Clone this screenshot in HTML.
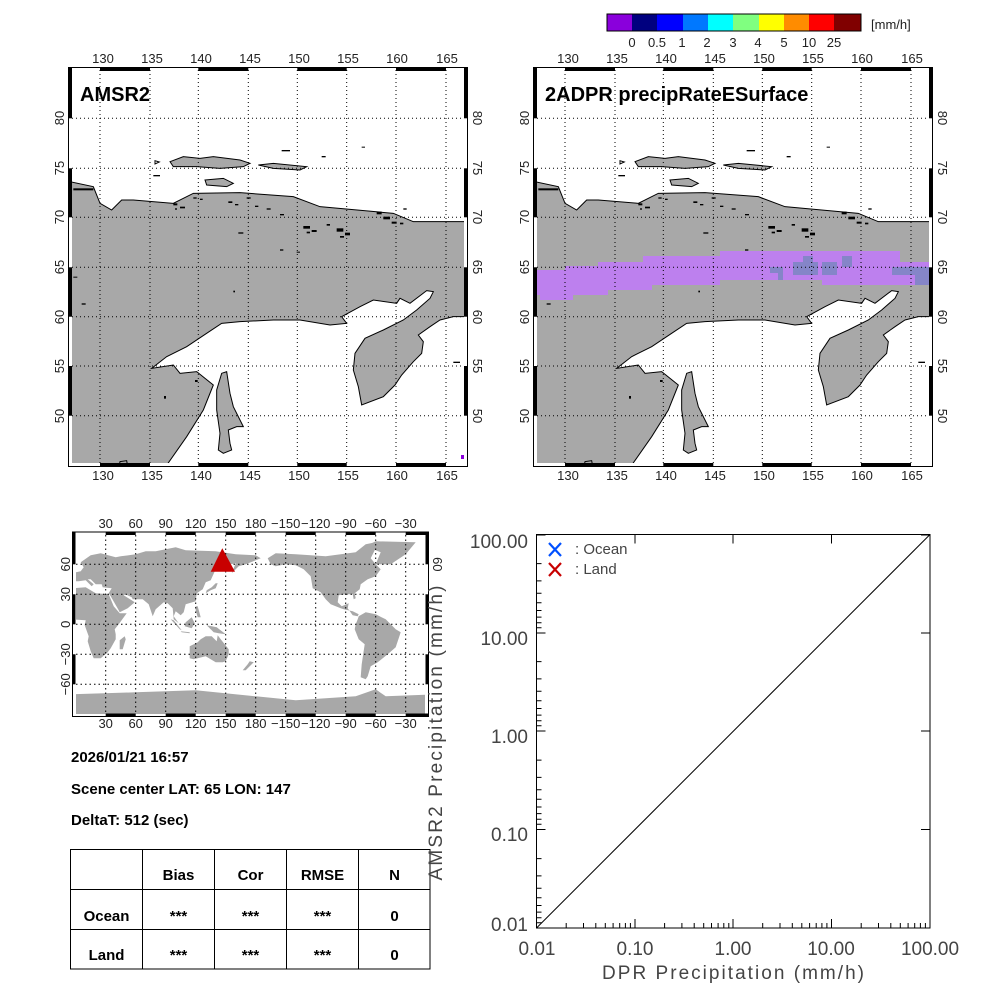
<!DOCTYPE html>
<html><head><meta charset="utf-8"><style>
html,body{margin:0;padding:0;background:#fff;}
svg{display:block;}
.t{font-family:"Liberation Sans",sans-serif;font-size:13px;fill:#222;}
.b{font-family:"Liberation Sans",sans-serif;font-weight:bold;fill:#000;}
.s{font-family:"Liberation Sans",sans-serif;fill:#444;}
</style></head><body>
<svg width="1000" height="1000" viewBox="0 0 1000 1000" xmlns="http://www.w3.org/2000/svg">
<defs>
<clipPath id="c1"><rect x="72" y="70" width="392" height="393"/></clipPath>
<clipPath id="c2"><rect x="537" y="70" width="392" height="393"/></clipPath>
<clipPath id="cw"><rect x="76" y="535" width="349" height="179"/></clipPath>
<g id="land">
<polygon fill="#a8a8a8" stroke="#000" stroke-width="3" points="90,425 160,440 180,490 215,510 245,480 280,480 400,490 460,460 600,458 760,470 840,500 1060,520 1120,545 1300,545 1300,830 1240,830 1200,840 1170,860 1135,885 1150,905 1145,940 1120,965 1085,1005 1065,1035 1030,1070 965,1095 955,1040 940,990 945,940 975,895 1030,870 1090,840 1130,810 1170,775 1180,755 1160,752 1110,790 1080,775 1070,790 1000,780 960,800 905,830 920,850 870,855 780,840 700,840 600,845 545,850 500,880 440,920 380,950 335,985 400,975 420,1000 470,995 520,1035 490,1110 440,1190 370,1290 60,1290 60,425"/>
<polygon fill="#a8a8a8" stroke="#000" stroke-width="3" points="545,1000 560,995 570,1060 580,1100 610,1160 590,1160 565,1170 570,1210 575,1230 550,1240 535,1230 540,1180 530,1110 530,1050"/>
<polygon fill="#a8a8a8" stroke="#000" stroke-width="3" points="390,365 430,350 480,355 520,350 600,360 630,370 610,380 540,385 470,380 400,380"/>
<polygon fill="#a8a8a8" stroke="#000" stroke-width="3" points="655,375 700,370 800,380 780,390 700,385"/>
<polygon fill="#a8a8a8" stroke="#000" stroke-width="3" points="495,420 550,415 580,430 560,440 500,435"/>
<polygon fill="#a8a8a8" stroke="#000" stroke-width="3" points="240,1265 260,1262 265,1290 235,1290"/>
<polygon fill="#fff" stroke="#000" stroke-width="3" points="345,362 358,366 345,372"/>
<g fill="#000">
<rect x="400" y="490" width="12" height="6"/><rect x="420" y="500" width="15" height="5"/><rect x="405" y="505" width="6" height="4"/>
<rect x="460" y="472" width="10" height="4"/><rect x="480" y="476" width="8" height="4"/>
<rect x="565" y="484" width="12" height="5"/><rect x="585" y="492" width="10" height="4"/><rect x="620" y="472" width="12" height="4"/>
<rect x="645" y="497" width="10" height="4"/><rect x="680" y="505" width="12" height="4"/>
<rect x="790" y="558" width="20" height="8"/><rect x="815" y="570" width="15" height="6"/><rect x="800" y="575" width="10" height="5"/>
<rect x="890" y="565" width="20" height="10"/><rect x="915" y="578" width="15" height="8"/><rect x="900" y="588" width="12" height="5"/>
<rect x="860" y="552" width="10" height="5"/><rect x="1010" y="515" width="15" height="8"/><rect x="1030" y="530" width="20" height="8"/>
<rect x="1055" y="545" width="15" height="6"/><rect x="1080" y="548" width="10" height="5"/>
<rect x="720" y="522" width="12" height="4"/><rect x="595" y="577" width="15" height="4"/>
<rect x="720" y="628" width="10" height="4"/><rect x="770" y="635" width="10" height="3"/>
<rect x="725" y="330" width="25" height="4"/><rect x="845" y="348" width="12" height="4"/>
<rect x="965" y="320" width="10" height="3"/><rect x="125" y="790" width="12" height="4"/>
<rect x="372" y="1068" width="6" height="8"/><rect x="465" y="1020" width="8" height="6"/>
<rect x="340" y="405" width="20" height="4"/><rect x="100" y="710" width="12" height="3"/>
<rect x="1240" y="965" width="20" height="4"/><rect x="1090" y="505" width="10" height="4"/>
<rect x="580" y="752" width="5" height="5"/><rect x="100" y="445" width="60" height="6"/>
</g>
</g>
</defs>

<!-- colorbar -->
<g stroke="none">
<rect x="607" y="14" width="26" height="17" fill="#8a00dc"/>
<rect x="632" y="14" width="26" height="17" fill="#00007f"/>
<rect x="657" y="14" width="26" height="17" fill="#0000ff"/>
<rect x="683" y="14" width="26" height="17" fill="#0078ff"/>
<rect x="708" y="14" width="26" height="17" fill="#00ffff"/>
<rect x="733" y="14" width="26" height="17" fill="#80ff80"/>
<rect x="759" y="14" width="26" height="17" fill="#ffff00"/>
<rect x="784" y="14" width="26" height="17" fill="#ff8c00"/>
<rect x="809" y="14" width="26" height="17" fill="#ff0000"/>
<rect x="834" y="14" width="27" height="17" fill="#800000"/>
</g>
<rect x="607" y="14" width="254" height="17" fill="none" stroke="#000"/>
<g class="t" font-size="14" text-anchor="middle">
<text x="632" y="47">0</text><text x="657" y="47">0.5</text><text x="682" y="47">1</text>
<text x="707" y="47">2</text><text x="733" y="47">3</text><text x="758" y="47">4</text>
<text x="784" y="47">5</text><text x="809" y="47">10</text><text x="834" y="47">25</text>
</g>
<text class="t" x="871" y="29" font-size="16">[mm/h]</text>

<!-- left map -->
<g clip-path="url(#c1)"><g transform="translate(40,40) scale(0.33333)"><use href="#land"/></g>
<rect x="461" y="455" width="4" height="4" fill="#8a00dc"/></g>
<!-- right map -->
<g clip-path="url(#c2)"><g transform="translate(505,40) scale(0.33333)"><use href="#land"/></g>
<polygon fill="#bd80ee" points="536,270 565,270 565,266 598,266 598,262 643,262 643,256 720,256 720,251 900,251 900,262 933,262 933,280 925,280 925,285 822,285 822,280 720,280 720,285 652,285 652,290 608,290 608,295 573,295 573,300 540,300 540,295 536,295"/>
<g fill="#8585c8">
<rect x="770" y="267" width="13" height="6"/><rect x="778" y="272" width="5" height="8"/>
<rect x="793" y="262" width="25" height="13"/><rect x="803" y="256" width="10" height="6"/>
<rect x="822" y="262" width="15" height="13"/><rect x="842" y="256" width="10" height="11"/>
<rect x="892" y="267" width="38" height="8"/><rect x="915" y="275" width="15" height="10"/>
</g></g>

<!-- map frames, grids -->
<g id="frames">
<g id="f1">
<g stroke="#000" stroke-width="1" stroke-dasharray="1,3" fill="none">
<path d="M100,70V464M150,70V464M198.3,70V464M248.3,70V464M297.3,70V464M346.7,70V464M396,70V464M446,70V464"/>
<path d="M72,118.3H464M72,168.3H464M72,217.3H464M72,267.3H464M72,316.7H464M72,366H464M72,415.7H464"/>
</g>
<rect x="68.5" y="67.5" width="399" height="399" fill="none" stroke="#000"/>
<g fill="#000">
<rect x="100" y="67" width="50" height="4"/><rect x="198.3" y="67" width="50" height="4"/><rect x="297.3" y="67" width="49.4" height="4"/><rect x="396" y="67" width="50" height="4"/>
<rect x="100" y="463" width="50" height="4"/><rect x="198.3" y="463" width="50" height="4"/><rect x="297.3" y="463" width="49.4" height="4"/><rect x="396" y="463" width="50" height="4"/>
<rect x="68" y="67" width="4" height="51.3"/><rect x="68" y="168.3" width="4" height="49"/><rect x="68" y="267.3" width="4" height="49.4"/><rect x="68" y="366" width="4" height="49.7"/>
<rect x="464" y="67" width="4" height="51.3"/><rect x="464" y="168.3" width="4" height="49"/><rect x="464" y="267.3" width="4" height="49.4"/><rect x="464" y="366" width="4" height="49.7"/>
</g>
<g class="t" text-anchor="middle">
<text x="103" y="63">130</text><text x="152" y="63">135</text><text x="201" y="63">140</text><text x="250" y="63">145</text><text x="299" y="63">150</text><text x="348" y="63">155</text><text x="397" y="63">160</text><text x="447" y="63">165</text>
<text x="103" y="480">130</text><text x="152" y="480">135</text><text x="201" y="480">140</text><text x="250" y="480">145</text><text x="299" y="480">150</text><text x="348" y="480">155</text><text x="397" y="480">160</text><text x="447" y="480">165</text>
<text transform="translate(64,118) rotate(-90)">80</text><text transform="translate(64,168) rotate(-90)">75</text><text transform="translate(64,217) rotate(-90)">70</text><text transform="translate(64,267) rotate(-90)">65</text><text transform="translate(64,317) rotate(-90)">60</text><text transform="translate(64,366) rotate(-90)">55</text><text transform="translate(64,416) rotate(-90)">50</text>
<text transform="translate(473,118) rotate(90)">80</text><text transform="translate(473,168) rotate(90)">75</text><text transform="translate(473,217) rotate(90)">70</text><text transform="translate(473,267) rotate(90)">65</text><text transform="translate(473,317) rotate(90)">60</text><text transform="translate(473,366) rotate(90)">55</text><text transform="translate(473,416) rotate(90)">50</text>
</g>
</g>
<use href="#f1" transform="translate(465,0)"/>
</g>
<text class="b" x="80" y="101" font-size="20">AMSR2</text>
<text class="b" x="545" y="101" font-size="20">2ADPR precipRateESurface</text>

<!-- world map -->
<g clip-path="url(#cw)">
<g transform="translate(75.7,624.3) scale(1,-1)" fill="#a8a8a8">
<polygon points="-5,43 -5,51 5,53 8,57 5,62 15,69 25,71 40,67 45,68 60,70 70,73 80,73 100,77 110,74 140,73 160,70 180,69 185,66 170,60 163,58 156,51 160,61 150,59 140,55 135,44 130,42 127,35 121,31 120,23 110,20 108,12 105,9 100,13 98,8 103,1 98,5 97,16 92,21 88,22 80,15 77,8 73,20 67,25 57,25 56,27 50,30 48,29 56,24 59,22 52,16 44,12 43,14 35,28 33,31 36,36 27,37 26,40 20,40 15,45 12,45 18,40 16,38 10,44 3,43"/>
<polygon points="10,37 -5,36 -5,5 10,4 9,-1 13,-12 12,-17 15,-27 18,-34 25,-34 32,-28 35,-24 40,-15 40,-10 39,-5 43,0 51,11 44,11 38,18 33,30 20,31"/>
<polygon points="44,-25 47,-25 50,-15 49,-12 44,-16"/>
<polygon points="114,-22 114,-34 118,-35 130,-32 135,-35 140,-38 147,-38 150,-37 153,-30 153,-25 145,-15 142,-11 141,-17 136,-12 130,-12 125,-15 122,-18"/>
<polygon points="167,-46 172,-40 174,-37 178,-38 174,-42 170,-46"/>
<polygon points="109,-2 110,2 116,7 119,1 116,-4"/>
<polygon points="95,5 98,4 106,-6 104,-5"/>
<polygon points="105,-7 114,-8 114,-9 106,-8"/>
<polygon points="131,-1 141,-3 150,-10 143,-9 138,-8 134,-4"/>
<polygon points="130,31 135,34 140,36 142,41 140,41 136,37 131,34"/>
<polygon points="120,18 122,18 125,7 122,7 120,14"/>
<polygon points="192,66 200,71 220,70 235,69 250,68 265,70 280,72 290,80 300,82 300,76 295,66 300,60 305,55 300,48 292,45 285,40 284,35 279,31 280,26 278,25 277,30 270,30 263,29 262,22 266,18 273,21 272,16 277,9 282,8 283,10 277,13 268,15 265,16 255,20 250,25 245,32 237,36 236,42 235,48 228,55 220,59 210,60 200,58 195,60"/>
<polygon points="300,60 315,60 330,70 340,82 300,83 290,78 305,72"/>
<polygon points="283,8 290,12 300,10 310,5 320,-5 325,-8 320,-23 312,-30 302,-38 295,-42 292,-52 290,-55 285,-53 286,-40 289,-20 283,-15 279,-5 280,0 282,5"/>
<polygon points="-5,-70 60,-68 120,-66 180,-72 220,-76 280,-72 300,-65 310,-72 360,-70 360,-95 -5,-95"/>
<polygon points="354,50 358,51 360,53 358,58 354,58"/>
</g>
</g>
<g stroke="#000" stroke-width="1" stroke-dasharray="1.5,3" fill="none">
<path d="M105.7,535V714M135.7,535V714M165.7,535V714M195.7,535V714M225.7,535V714M255.7,535V714M285.7,535V714M315.7,535V714M345.7,535V714M375.7,535V714M405.7,535V714"/>
<path d="M76,564.3H425M76,594.3H425M76,624.3H425M76,654.3H425M76,684.3H425"/>
</g>
<rect x="72.5" y="532" width="356" height="184.5" fill="none" stroke="#000"/>
<g fill="#000">
<rect x="105.7" y="532" width="30" height="3"/><rect x="165.7" y="532" width="30" height="3"/><rect x="225.7" y="532" width="30" height="3"/><rect x="285.7" y="532" width="30" height="3"/><rect x="345.7" y="532" width="30" height="3"/><rect x="405.7" y="532" width="23" height="3"/>
<rect x="105.7" y="713.5" width="30" height="3"/><rect x="165.7" y="713.5" width="30" height="3"/><rect x="225.7" y="713.5" width="30" height="3"/><rect x="285.7" y="713.5" width="30" height="3"/><rect x="345.7" y="713.5" width="30" height="3"/><rect x="405.7" y="713.5" width="23" height="3"/>
<rect x="72.5" y="532" width="3" height="32.3"/><rect x="72.5" y="594.3" width="3" height="30"/><rect x="72.5" y="654.3" width="3" height="30"/>
<rect x="425.5" y="532" width="3" height="32.3"/><rect x="425.5" y="594.3" width="3" height="30"/><rect x="425.5" y="654.3" width="3" height="30"/>
</g>
<polygon points="222.3,548.3 210.7,571.7 235,571.7" fill="#c80000"/>
<g class="t" text-anchor="middle">
<text x="105.7" y="528">30</text><text x="135.7" y="528">60</text><text x="165.7" y="528">90</text><text x="195.7" y="528">120</text><text x="225.7" y="528">150</text><text x="255.7" y="528">180</text><text x="285.7" y="528">−150</text><text x="315.7" y="528">−120</text><text x="345.7" y="528">−90</text><text x="375.7" y="528">−60</text><text x="405.7" y="528">−30</text>
<text x="105.7" y="728">30</text><text x="135.7" y="728">60</text><text x="165.7" y="728">90</text><text x="195.7" y="728">120</text><text x="225.7" y="728">150</text><text x="255.7" y="728">180</text><text x="285.7" y="728">−150</text><text x="315.7" y="728">−120</text><text x="345.7" y="728">−90</text><text x="375.7" y="728">−60</text><text x="405.7" y="728">−30</text>
<text transform="translate(70,564.3) rotate(-90)">60</text><text transform="translate(70,594.3) rotate(-90)">30</text><text transform="translate(70,624.3) rotate(-90)">0</text><text transform="translate(70,654.3) rotate(-90)">−30</text><text transform="translate(70,684.3) rotate(-90)">−60</text>
<text transform="translate(433,564.3) rotate(90)">60</text>
</g>

<!-- text block -->
<text class="b" x="71" y="762" font-size="15">2026/01/21 16:57</text>
<text class="b" x="71" y="794" font-size="15">Scene center LAT: 65   LON: 147</text>
<text class="b" x="71" y="825" font-size="15">DeltaT:  512 (sec)</text>
<g stroke="#000" stroke-width="1" fill="none">
<rect x="70.5" y="849.5" width="359.5" height="119.5"/>
<path d="M142.5,849.5V969M214.5,849.5V969M286.5,849.5V969M358.5,849.5V969M70.5,889.5H430M70.5,929.5H430"/>
</g>
<g class="b" font-size="15" text-anchor="middle">
<text x="178.5" y="880">Bias</text><text x="250.5" y="880">Cor</text><text x="322.5" y="880">RMSE</text><text x="394.5" y="880">N</text>
<text x="106.5" y="921">Ocean</text><text x="178.5" y="921">***</text><text x="250.5" y="921">***</text><text x="322.5" y="921">***</text><text x="394.5" y="921">0</text>
<text x="106.5" y="960">Land</text><text x="178.5" y="960">***</text><text x="250.5" y="960">***</text><text x="322.5" y="960">***</text><text x="394.5" y="960">0</text>
</g>

<!-- scatter -->
<rect x="536.5" y="534.5" width="393.5" height="393.5" fill="none" stroke="#000"/>
<line x1="536.5" y1="928" x2="930" y2="534.5" stroke="#000"/>
<g stroke="#000" stroke-width="1">
<path d="M536.5,535h9M536.5,633h9M536.5,731h9M536.5,829.5h9M536.5,928h9M930,535h-9M930,633h-9M930,731h-9M930,829.5h-9"/>
<path d="M536.5,928v-9M635,928v-9M733,928v-9M831.5,928v-9M930,928v-9M635,534.5v9M733,534.5v9M831.5,534.5v9"/>
<path d="M536.5,563.6h5M536.5,580.9h5M536.5,593.2h5M536.5,602.7h5M536.5,610.5h5M536.5,617.1h5M536.5,622.8h5M536.5,627.8h5
M536.5,661.6h5M536.5,678.9h5M536.5,691.2h5M536.5,700.7h5M536.5,708.5h5M536.5,715.1h5M536.5,720.8h5M536.5,725.8h5
M536.5,760.1h5M536.5,777.4h5M536.5,789.7h5M536.5,799.2h5M536.5,807h5M536.5,813.6h5M536.5,819.3h5M536.5,824.3h5
M536.5,858.6h5M536.5,875.9h5M536.5,888.2h5M536.5,897.7h5M536.5,905.5h5M536.5,912.1h5M536.5,917.8h5M536.5,922.8h5"/>
<path d="M566.2,928v-5M583.5,928v-5M595.8,928v-5M605.3,928v-5M613.1,928v-5M619.7,928v-5M625.4,928v-5M630.4,928v-5
M664.6,928v-5M681.9,928v-5M694.2,928v-5M703.7,928v-5M711.5,928v-5M718.1,928v-5M723.8,928v-5M728.8,928v-5
M762.7,928v-5M780,928v-5M792.3,928v-5M801.8,928v-5M809.6,928v-5M816.2,928v-5M821.9,928v-5M826.9,928v-5
M861.2,928v-5M878.5,928v-5M890.8,928v-5M900.3,928v-5M908.1,928v-5M914.7,928v-5M920.4,928v-5M925.4,928v-5"/>
</g>
<g class="s" font-size="19" text-anchor="end">
<text x="528" y="548">100.00</text><text x="528" y="645">10.00</text><text x="528" y="743">1.00</text><text x="528" y="841">0.10</text><text x="528" y="931">0.01</text>
</g>
<g class="s" font-size="19" text-anchor="middle">
<text x="537" y="955">0.01</text><text x="635" y="955">0.10</text><text x="733" y="955">1.00</text><text x="831" y="955">10.00</text><text x="930" y="955">100.00</text>
</g>
<text class="s" x="733" y="979" font-size="19" text-anchor="middle" textLength="262">DPR Precipitation (mm/h)</text>
<text class="s" transform="translate(442,733) rotate(-90)" font-size="19" text-anchor="middle" textLength="295">AMSR2 Precipitation (mm/h)</text>
<g stroke-width="2.2">
<path d="M549,543l12,13M561,543l-12,13" stroke="#0050ff"/>
<path d="M549,563l12,13M561,563l-12,13" stroke="#c80000"/>
</g>
<text class="s" x="575" y="554" font-size="15">:  Ocean</text>
<text class="s" x="575" y="574" font-size="15">:  Land</text>
</svg>
</body></html>
